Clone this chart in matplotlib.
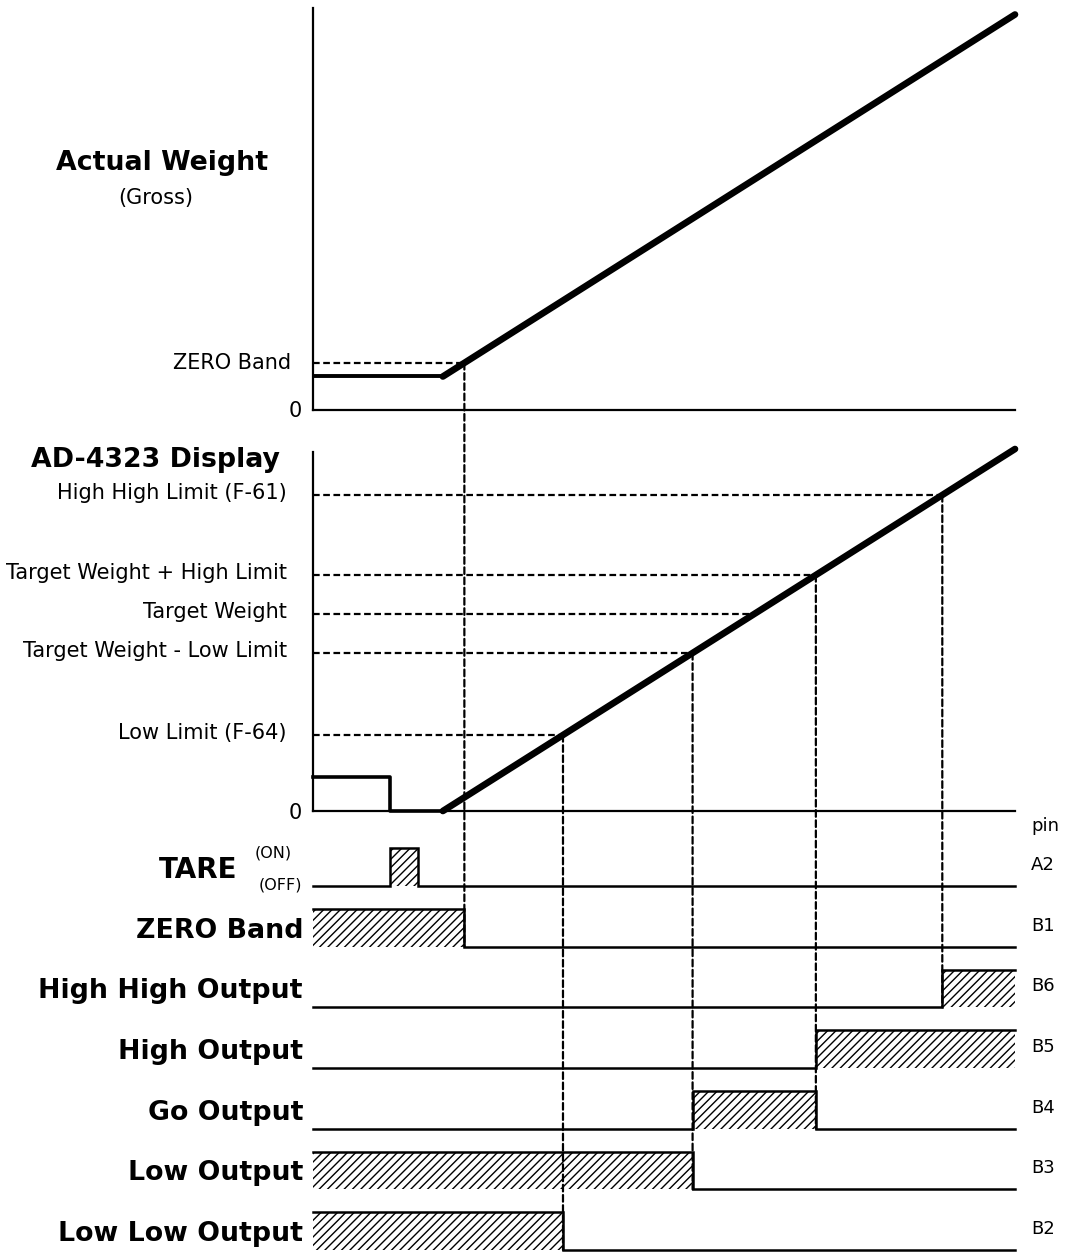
import numpy as np
import matplotlib.pyplot as plt
from matplotlib.patches import ConnectionPatch

# --- data (time and weight in arbitrary units) ---
t_tare_on, t_tare_off = 11.0, 15.0
t_fill, t_end = 18.5, 100.0
container = 8.5          # gross weight sitting on the scale before filling
gross_end = 99.0
zero_band = 11.9

limit_names = ['Low Limit (F-64)', 'Target Weight - Low Limit', 'Target Weight',
               'Target Weight + High Limit', 'High High Limit (F-61)']
limit_levels = [19.0, 39.5, 49.25, 59.0, 79.0]

signal_names = ['TARE', 'ZERO Band', 'High High Output', 'High Output',
                'Go Output', 'Low Output', 'Low Low Output']
pins = ['A2', 'B1', 'B6', 'B5', 'B4', 'B3', 'B2']

# weight curves
gross_t = [0, t_fill, t_end]
gross_w = [container, container, gross_end]
disp_t = [0, t_tare_on, t_tare_on, t_fill, t_end]
disp_w = [container, container, 0, 0, gross_end - container]

# when the ramp crosses each level
t_zb = np.interp(zero_band, [container, gross_end], [t_fill, t_end])
t_cross = [np.interp(v, [0, gross_end - container], [t_fill, t_end]) for v in limit_levels]
t_ll, t_tl, t_tg, t_th, t_hh = t_cross

intervals = [(t_tare_on, t_tare_off), (0, t_zb), (t_hh, t_end), (t_th, t_end),
             (t_tl, t_th), (0, t_tl), (0, t_ll)]

plt.rcParams['font.family'] = 'DejaVu Sans'
plt.rcParams['hatch.linewidth'] = 1.0
W, H = 1073, 1260
fig = plt.figure(figsize=(W / 100, H / 100), dpi=100)

x0, xw = 313 / W, 702 / W
ax_w = fig.add_axes([x0, (H - 410.5) / H, xw, 402.5 / H])
ax_d = fig.add_axes([x0, (H - 811) / H, xw, 359 / H])
ax_s = fig.add_axes([x0, 0, xw, 440 / H])

ax_w.set_ylim(0, 402.5 / 4)
ax_d.set_ylim(0, 359 / 4)
row = 60.67
ax_s.set_ylim(-(H - 886) / row, (886 - 820) / row)

for ax in (ax_w, ax_d, ax_s):
    ax.set_xlim(0, t_end)
    ax.set_facecolor('none')
    ax.set_xticks([])
    ax.set_yticks([])
    for s in ('top', 'right'):
        ax.spines[s].set_visible(False)
for ax in (ax_w, ax_d):
    ax.spines['left'].set_linewidth(1.6)
    ax.spines['bottom'].set_linewidth(1.6)
ax_s.spines['left'].set_visible(False)
ax_s.spines['bottom'].set_visible(False)

dash = (0, (3, 1.6))
dlw = 1.6

# --- top panel: actual (gross) weight ---
ax_w.plot(gross_t[:2], gross_w[:2], 'k-', lw=2.8, clip_on=False, solid_capstyle='butt')
ax_w.plot(gross_t[1:], gross_w[1:], 'k-', lw=4.8, clip_on=False, solid_capstyle='round', zorder=5)
ax_w.plot([0, t_zb], [zero_band, zero_band], color='k', ls=dash, lw=dlw)
ax_w.annotate('ZERO Band', (0, zero_band), xytext=(-22, 0), textcoords='offset pixels',
              ha='right', va='center', fontsize=15)
ax_w.annotate('0', (0, 0), xytext=(-11, -1), textcoords='offset pixels',
              ha='right', va='center', fontsize=15)
fig.text(162 / W, 1 - 163 / H, 'Actual Weight', ha='center', va='center',
         fontsize=19.3, fontweight='bold')
fig.text(156 / W, 1 - 198 / H, '(Gross)', ha='center', va='center', fontsize=15)

# --- middle panel: display ---
ax_d.plot(disp_t[:4], disp_w[:4], 'k-', lw=2.6, clip_on=False)
ax_d.plot(disp_t[3:], disp_w[3:], 'k-', lw=4.8, clip_on=False, solid_capstyle='round', zorder=5)
for name, v, tc in zip(limit_names, limit_levels, t_cross):
    ax_d.plot([0, tc], [v, v], color='k', ls=dash, lw=dlw)
    ax_d.annotate(name, (0, v), xytext=(-26, 2), textcoords='offset pixels',
                  ha='right', va='center', fontsize=15)
ax_d.annotate('0', (0, 0), xytext=(-11, -2), textcoords='offset pixels',
              ha='right', va='center', fontsize=15)
fig.text(280 / W, 1 - 460 / H, 'AD-4323 Display', ha='right', va='center',
         fontsize=19.3, fontweight='bold')

# --- output signals ---
hi = 0.62
for i, (name, pin, (on, off)) in enumerate(zip(signal_names, pins, intervals)):
    lo = -i
    xs, ys = [], []
    if on > 0:
        xs += [0, on]
        ys += [lo, lo]
    xs += [on, off]
    ys += [lo + hi, lo + hi]
    if off < t_end:
        xs += [off, t_end]
        ys += [lo, lo]
    ax_s.fill_between([on, off], lo, lo + hi, hatch='////', facecolor='none',
                      edgecolor='k', linewidth=0)
    ax_s.plot(xs, ys, 'k-', lw=1.8, solid_joinstyle='miter', clip_on=False)
    ax_s.annotate(pin, (t_end, lo), xytext=(16, 21), textcoords='offset pixels',
                  ha='left', va='center', fontsize=13)
    if name == 'TARE':
        ax_s.annotate(name, (0, lo), xytext=(-76, 16), textcoords='offset pixels',
                      ha='right', va='center', fontsize=20, fontweight='bold')
        ax_s.annotate('(ON)', (0, lo), xytext=(-40, 33), textcoords='offset pixels',
                      ha='center', va='center', fontsize=11.5)
        ax_s.annotate('(OFF)', (0, lo), xytext=(-33, 1), textcoords='offset pixels',
                      ha='center', va='center', fontsize=11.5)
    else:
        ax_s.annotate(name, (0, lo), xytext=(-10, 16), textcoords='offset pixels',
                      ha='right', va='center', fontsize=19.3, fontweight='bold')
ax_s.annotate('pin', (t_end, 0), xytext=(16, 60), textcoords='offset pixels',
              ha='left', va='center', fontsize=13)

# --- vertical dashed links from the ramp down to the switching edges ---
links = [(ax_w, t_zb, zero_band, 1), (ax_d, t_ll, limit_levels[0], 6),
         (ax_d, t_tl, limit_levels[1], 5), (ax_d, t_th, limit_levels[3], 4),
         (ax_d, t_hh, limit_levels[4], 2)]
for ax, tc, v, r in links:
    con = ConnectionPatch(xyA=(tc, v), coordsA=ax.transData,
                          xyB=(tc, -r), coordsB=ax_s.transData,
                          color='k', ls=dash, lw=dlw, zorder=1)
    fig.add_artist(con)

fig.savefig('out.png', dpi=100)
